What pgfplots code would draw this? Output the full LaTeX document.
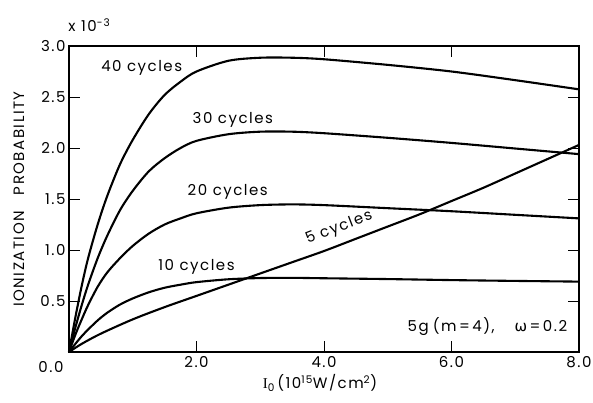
\documentclass[border=0pt]{standalone}
\usepackage{fontspec}
\setmainfont{Poppins}[LetterSpace=10]
\newfontfamily\grk{DejaVu Sans}
\newfontfamily\serifI{Liberation Serif}
\usepackage{pgfplots}
\pgfplotsset{compat=1.18}
\pgfplotsset{cyc/.style={black, line width=2.1pt, mark=none, smooth, tension=0.5}}
\begin{document}
\begin{tikzpicture}[font=\fontsize{15}{17}\selectfont]
\begin{axis}[
  name=ax, at={(0,0)}, anchor=origin,
  scale only axis, width=510pt, height=306pt,
  xmin=0, xmax=8, ymin=0, ymax=3,
  clip=false,
  xtick={2,4,6,8}, xticklabels={2.0,4.0,6.0,8.0},
  ytick={0.5,1,1.5,2,2.5,3}, yticklabels={0.5,1.0,1.5,2.0,2.5,3.0},
  tick align=inside, major tick length=11pt,
  tick style={line width=1pt, black},
  axis line style={line width=1.2pt},
  tick label style={font=\fontsize{15}{17}\selectfont},
  xticklabel style={yshift=-1pt},
  xlabel={{\serifI I}\textsubscript{0}\,(10\textsuperscript{15}W/cm\textsuperscript{2})},
  xlabel style={font=\fontsize{16}{18}\selectfont},
  ylabel={IONIZATION\hspace{16pt}PROBABILITY},
  every axis x label/.style={at={(axis description cs:0.492,-0.101)}, anchor=center},
  every axis y label/.style={at={(axis description cs:-0.098,0.5)}, rotate=90, anchor=center},
]
% 40 cycles
\addplot[cyc] coordinates {(0,0) (0.1,0.34) (0.2,0.65) (0.3,0.92) (0.45,1.25) (0.6,1.53) (0.8,1.84) (1.0,2.08) (1.25,2.33) (1.5,2.52) (1.75,2.65) (2.0,2.75) (2.5,2.855) (3.0,2.885) (3.5,2.885) (4.0,2.87) (5.0,2.815) (6.0,2.75) (7.0,2.665) (8.0,2.575)};
% 30 cycles
\addplot[cyc] coordinates {(0,0) (0.1,0.24) (0.2,0.46) (0.3,0.66) (0.45,0.92) (0.6,1.14) (0.8,1.39) (1.0,1.58) (1.25,1.77) (1.5,1.9) (1.75,2.0) (2.0,2.07) (2.5,2.135) (3.0,2.16) (3.5,2.16) (4.0,2.145) (5.0,2.10) (6.0,2.05) (7.0,1.995) (8.0,1.94)};
% 20 cycles
\addplot[cyc] coordinates {(0,0) (0.1,0.17) (0.2,0.32) (0.3,0.46) (0.45,0.64) (0.6,0.78) (0.8,0.92) (1.0,1.04) (1.25,1.16) (1.5,1.25) (1.75,1.31) (2.0,1.36) (2.5,1.415) (3.0,1.44) (3.5,1.447) (4.0,1.44) (5.0,1.41) (6.0,1.38) (7.0,1.345) (8.0,1.31)};
% 10 cycles
\addplot[cyc] coordinates {(0,0) (0.1,0.08) (0.2,0.155) (0.3,0.22) (0.45,0.31) (0.6,0.385) (0.8,0.465) (1.0,0.525) (1.25,0.585) (1.5,0.63) (1.75,0.66) (2.0,0.685) (2.5,0.713) (3.0,0.725) (3.5,0.727) (4.0,0.723) (5.0,0.715) (6.0,0.705) (7.0,0.697) (8.0,0.69)};
% 5 cycles
\addplot[cyc] coordinates {(0,0) (0.2,0.08) (0.5,0.18) (1.0,0.32) (1.5,0.44) (2.0,0.55) (2.5,0.66) (3.0,0.77) (3.5,0.88) (4.0,0.99) (4.5,1.11) (5.0,1.23) (5.5,1.35) (6.0,1.48) (6.5,1.61) (7.0,1.75) (7.5,1.89) (8.0,2.03)};
\node at (axis cs:1.14,2.79) {40 cycles};
\node at (axis cs:2.57,2.28) {30 cycles};
\node at (axis cs:2.49,1.57) {20 cycles};
\node at (axis cs:2.0,0.835) {10 cycles};
\node[rotate=21] at (axis cs:4.24,1.215) {5 cycles};
\node[anchor=east] at (axis cs:7.87,0.245) {5g\hspace{4pt}(m\,=\,4),\hspace{20pt}{\grk ω}\,=\,0.2};
\node at (axis description cs:0.04,1.069) {x 10\textsuperscript{-3}};
\node[anchor=north east] at (axis description cs:-0.004,-0.02) {0.0};
\end{axis}
\pgfresetboundingbox
\path (-69pt,-50pt) rectangle (524pt,352pt);
\end{tikzpicture}
\end{document}
